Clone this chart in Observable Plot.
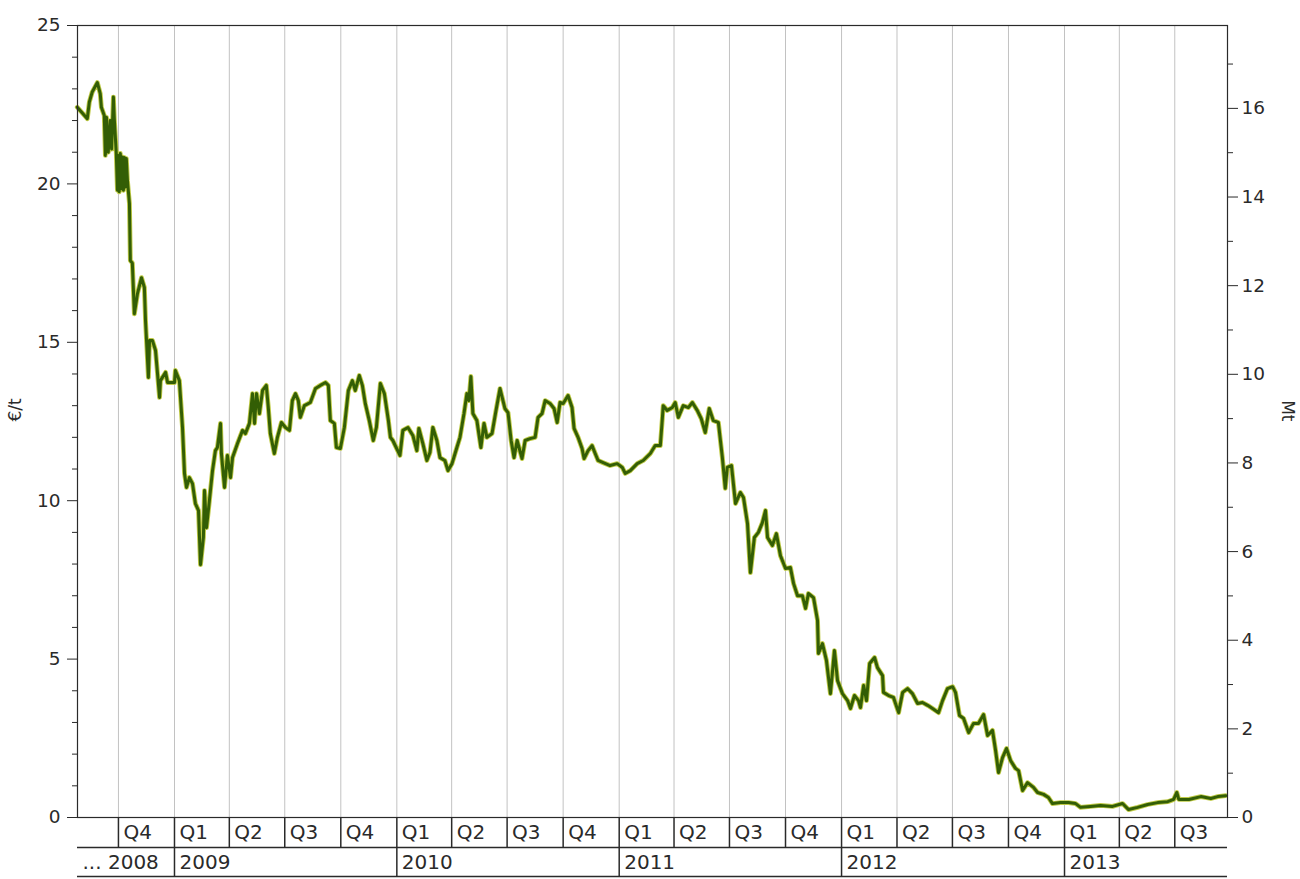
<!DOCTYPE html>
<html>
<head>
<meta charset="utf-8">
<script src="https://cdn.jsdelivr.net/npm/d3@7"></script>
<script src="https://cdn.jsdelivr.net/npm/@observablehq/plot@0.6"></script>
<style>
  html, body { margin: 0; padding: 0; background: #fff; }
  #chart svg { display: block; }
</style>
</head>
<body>
<div id="chart"></div>
<script>
// Time (decimal years) and price (€/t)
const years = [
2008.564,2008.609,2008.618,2008.631,2008.654,2008.667,2008.672,2008.685,2008.690,2008.695,
2008.703,2008.712,2008.718,2008.726,2008.730,2008.739,2008.744,2008.748,2008.752,2008.757,
2008.762,2008.766,2008.771,2008.775,2008.780,2008.784,2008.789,
2008.798,2008.802,2008.811,2008.820,2008.834,2008.852,2008.865,2008.870,2008.883,2008.888,
2008.901,2008.915,2008.933,2008.937,2008.960,2008.969,2009.000,2009.004,2009.022,2009.036,
2009.045,2009.054,2009.067,2009.081,2009.094,2009.108,2009.117,2009.130,2009.135,2009.144,
2009.157,2009.171,2009.184,2009.193,2009.207,2009.211,2009.225,2009.238,2009.252,2009.261,
2009.283,2009.306,2009.319,2009.337,2009.351,2009.360,2009.369,2009.382,2009.396,2009.413,
2009.422,2009.431,2009.449,2009.463,2009.481,2009.499,2009.517,2009.530,2009.544,2009.557,
2009.566,2009.584,2009.611,2009.634,2009.656,2009.679,2009.692,2009.701,2009.719,2009.728,
2009.746,2009.764,2009.782,2009.800,2009.813,2009.831,2009.845,2009.858,2009.876,2009.894,
2009.908,2009.926,2009.944,2009.962,2009.971,2009.982,2010.014,2010.027,2010.050,2010.072,
2010.090,2010.099,2010.117,2010.135,2010.149,2010.162,2010.180,2010.194,2010.216,2010.230,
2010.248,2010.270,2010.284,2010.302,2010.315,2010.324,2010.333,2010.342,2010.360,2010.378,
2010.392,2010.405,2010.428,2010.446,2010.464,2010.486,2010.500,2010.514,2010.527,2010.541,
2010.563,2010.577,2010.599,2010.622,2010.635,2010.653,2010.667,2010.689,2010.707,2010.721,
2010.734,2010.748,2010.770,2010.788,2010.797,2010.815,2010.833,2010.842,2010.860,2010.878,
2010.892,2010.905,2010.928,2010.959,2010.991,2011.014,2011.027,2011.050,2011.081,2011.108,
2011.140,2011.162,2011.185,2011.194,2011.198,2011.216,2011.239,2011.252,2011.266,2011.288,
2011.311,2011.329,2011.351,2011.369,2011.387,2011.405,2011.423,2011.446,2011.464,2011.477,
2011.486,2011.505,2011.523,2011.545,2011.559,2011.577,2011.590,2011.608,2011.626,2011.644,
2011.658,2011.667,2011.689,2011.707,2011.725,2011.748,2011.770,2011.784,2011.802,2011.824,
2011.838,2011.851,2011.874,2011.892,2011.896,2011.914,2011.932,2011.950,2011.968,2011.982,
2012.004,2012.027,2012.040,2012.058,2012.076,2012.085,2012.099,2012.112,2012.126,2012.148,
2012.161,2012.184,2012.188,2012.211,2012.233,2012.256,2012.274,2012.296,2012.318,2012.341,
2012.363,2012.386,2012.408,2012.435,2012.453,2012.475,2012.498,2012.511,2012.529,2012.547,
2012.570,2012.592,2012.614,2012.637,2012.655,2012.677,2012.691,2012.704,2012.722,2012.740,
2012.758,2012.780,2012.794,2012.812,2012.834,2012.861,2012.879,2012.906,2012.928,2012.946,
2012.982,2013.018,2013.050,2013.072,2013.117,2013.162,2013.216,2013.261,2013.288,2013.329,
2013.374,2013.419,2013.464,2013.491,2013.505,2013.514,2013.559,2013.613,2013.658,2013.689,
2013.725
];
const price = [
22.42,22.06,22.58,22.90,23.20,22.85,22.42,22.16,20.90,22.10,
21.00,22.00,21.10,22.74,22.06,20.96,19.80,20.90,19.75,20.96,
19.85,20.85,19.80,20.83,19.90,20.80,20.10,
19.38,17.58,17.50,15.90,16.54,17.04,16.73,15.69,13.89,15.06,
15.06,14.74,13.26,13.79,14.05,13.73,13.73,14.11,13.79,12.31,
10.86,10.42,10.73,10.54,9.91,9.69,7.98,8.84,10.32,9.15,
10.00,10.95,11.58,11.68,12.44,11.49,10.42,11.43,10.73,11.36,
11.80,12.22,12.12,12.44,13.38,12.44,13.38,12.75,13.48,13.64,
12.94,12.12,11.49,12.00,12.47,12.31,12.22,13.16,13.38,13.16,
12.63,13.00,13.10,13.54,13.64,13.73,13.64,12.53,12.44,11.68,
11.65,12.31,13.48,13.79,13.48,13.95,13.64,13.07,12.53,11.90,
12.31,13.70,13.38,12.53,12.00,11.90,11.43,12.22,12.31,12.06,
11.58,12.28,11.80,11.27,11.52,12.31,11.90,11.36,11.27,10.95,
11.17,11.68,12.00,12.75,13.38,13.16,13.92,12.75,12.53,11.68,
12.44,12.00,12.12,12.85,13.54,12.91,12.78,11.90,11.36,11.90,
11.33,11.90,11.96,12.00,12.63,12.75,13.16,13.07,12.91,12.47,
13.10,13.07,13.32,12.94,12.28,12.00,11.65,11.33,11.58,11.74,
11.49,11.27,11.20,11.11,11.17,11.05,10.86,10.95,11.17,11.27,
11.49,11.74,11.74,12.59,13.00,12.85,12.94,13.10,12.63,13.00,
12.94,13.10,12.85,12.59,12.15,12.91,12.53,12.47,11.36,10.39,
11.05,11.11,9.91,10.26,10.10,9.28,7.73,8.84,9.00,9.31,
9.69,8.84,8.59,8.96,8.27,7.86,7.89,7.39,7.00,7.00,
6.60,7.07,6.94,6.22,5.18,5.49,4.96,3.91,5.27,4.32,
3.91,3.69,3.44,3.85,3.69,3.47,4.17,3.69,4.86,5.05,
4.73,4.48,3.95,3.85,3.79,3.31,3.95,4.07,3.91,3.60,
3.63,3.54,3.44,3.31,3.69,4.07,4.13,3.95,3.22,3.13,
2.68,2.97,2.97,3.25,2.59,2.75,2.11,1.42,1.89,2.18,
1.80,1.55,1.48,0.85,1.10,0.95,0.79,0.73,0.63,0.44,
0.47,0.47,0.44,0.32,0.35,0.38,0.35,0.44,0.25,0.32,
0.41,0.47,0.50,0.57,0.79,0.57,0.57,0.66,0.60,0.66,
0.69
];

// Axis ticks and labels
const leftTicks = [0, 5, 10, 15, 20, 25];
const leftMinorTicks = [1,2,3,4,6,7,8,9,11,12,13,14,16,17,18,19,21,22,23,24];
const rightTicks = [0, 2, 4, 6, 8, 10, 12, 14, 16];
const rightMinorTicks = [1, 3, 5, 7, 9, 11, 13, 15, 17];
const rightMax = 17.87;          // Mt value at top of the right axis
const leftMax = 25;
const quarterStarts = ["2008-10-01","2009-01-01","2009-04-01","2009-07-01","2009-10-01",
  "2010-01-01","2010-04-01","2010-07-01","2010-10-01","2011-01-01","2011-04-01","2011-07-01",
  "2011-10-01","2012-01-01","2012-04-01","2012-07-01","2012-10-01","2013-01-01","2013-04-01","2013-07-01"];
const quarterLabels = ["Q4","Q1","Q2","Q3","Q4","Q1","Q2","Q3","Q4","Q1","Q2","Q3","Q4",
  "Q1","Q2","Q3","Q4","Q1","Q2","Q3"];
const yearStarts = ["2009-01-01","2010-01-01","2011-01-01","2012-01-01","2013-01-01"];
const yearLabels = ["... 2008","2009","2010","2011","2012","2013"];
const domainStart = 2008.565, domainEnd = 2013.733;

function toDate(y) {
  const Y = Math.floor(y);
  const a = Date.UTC(Y, 0, 1), b = Date.UTC(Y + 1, 0, 1);
  return new Date(a + (y - Y) * (b - a));
}
const data = years.map((y, i) => ({date: toDate(y), price: price[i]}));
const quarters = quarterStarts.map((s, i) => ({date: new Date(s), label: quarterLabels[i]}));
const yearRows = [{date: toDate(domainStart), label: yearLabels[0]}]
  .concat(yearStarts.map((s, i) => ({date: new Date(s), label: yearLabels[i + 1]})));

const ink = "#2a2a2a";
const font = "DejaVu Sans, Verdana, sans-serif";
const toLeft = v => v * leftMax / rightMax;

const chart = Plot.plot({
  width: 1300,
  height: 879,
  marginLeft: 77,
  marginRight: 73,
  marginTop: 25,
  marginBottom: 62,
  style: {fontFamily: font, background: "#fff", color: ink},
  x: {type: "utc", domain: [toDate(domainStart), toDate(domainEnd)], axis: null},
  y: {domain: [0, leftMax]},
  marks: [
    Plot.ruleX(quarters, {x: "date", stroke: "#c2c2c2", strokeWidth: 1}),
    // left axis
    Plot.axisY(leftTicks, {anchor: "left", tickSize: 10, tickPadding: 7, fontSize: 18.5, label: null, stroke: ink, fill: ink}),
    Plot.axisY(leftMinorTicks, {anchor: "left", tickSize: 5, tickFormat: () => "", label: null, stroke: ink}),
    // right axis (Mt)
    Plot.axisY(rightTicks.map(toLeft), {anchor: "right", tickSize: 10, tickPadding: 4, fontSize: 18.5, label: null, stroke: ink, fill: ink,
      tickFormat: d => String(Math.round(d * rightMax / leftMax))}),
    Plot.axisY(rightMinorTicks.map(toLeft), {anchor: "right", tickSize: 5, tickFormat: () => "", label: null, stroke: ink}),
    Plot.text(["€/t"], {frameAnchor: "left", dx: -62, rotate: -90, fontSize: 17, fill: ink}),
    Plot.text(["Mt"], {frameAnchor: "right", dx: 60, rotate: 90, fontSize: 17, fill: ink}),
    // price line
    Plot.line(data, {x: "date", y: "price", stroke: "#bfca46", strokeWidth: 4.8, strokeLinejoin: "round", curve: "linear"}),
    Plot.line(data, {x: "date", y: "price", stroke: "#335e05", strokeWidth: 3, strokeLinejoin: "round", curve: "linear"}),
    Plot.frame({stroke: ink, strokeWidth: 1.2}),
    // bottom quarter / year rows
    Plot.ruleX(quarters, {x: "date", y1: 0, y2: 0, insetBottom: -30, stroke: ink, strokeWidth: 1.5}),
    Plot.ruleY([0], {dy: 30, stroke: ink, strokeWidth: 1.5}),
    Plot.ruleX(yearRows.slice(1), {x: "date", y1: 0, y2: 0, insetTop: 30, insetBottom: -59, stroke: ink, strokeWidth: 1.5}),
    Plot.ruleY([0], {dy: 59, stroke: ink, strokeWidth: 1.5}),
    Plot.text(quarters, {x: "date", y: 0, text: "label", textAnchor: "start", dx: 5, dy: 15, fontSize: 20, fill: ink}),
    Plot.text(yearRows, {x: "date", y: 0, text: "label", textAnchor: "start", dx: 5, dy: 45, fontSize: 20, fill: ink})
  ]
});
document.getElementById("chart").appendChild(chart);
</script>
</body>
</html>
